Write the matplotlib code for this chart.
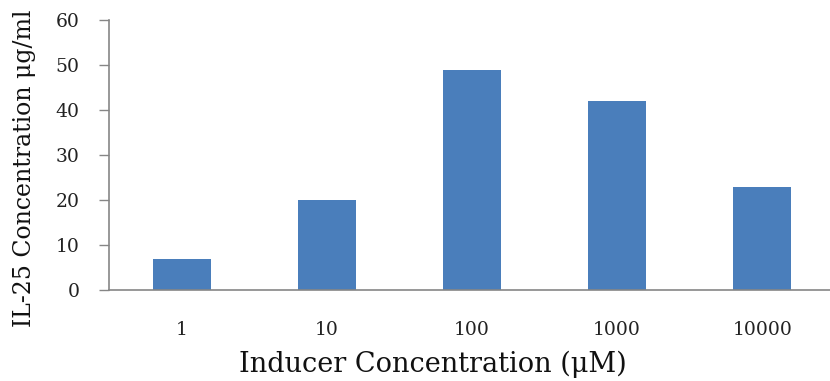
import matplotlib
matplotlib.use("Agg")
import matplotlib.pyplot as plt

# inducer dose vs IL-25 output
inducer_labels = ["1", "10", "100", "1000", "10000"]
il25_conc = [7, 20, 49, 42, 23]

bar_color = "#4a7ebb"
axis_grey = "#868686"

fig = plt.figure(figsize=(8.3, 3.81), dpi=100)
ax = fig.add_axes([0.1313, 0.2388, 0.8747, 0.7087])

x = range(len(inducer_labels))
ax.bar(x, il25_conc, width=0.4, color=bar_color, zorder=2)

ax.set_xlim(-0.5, len(inducer_labels) - 0.5)
ax.set_ylim(0, 60)
ax.set_yticks(range(0, 61, 10))
ax.set_xticks(list(x))
ax.set_xticklabels(inducer_labels)

for side in ["top", "right"]:
    ax.spines[side].set_visible(False)
for side in ["left", "bottom"]:
    ax.spines[side].set_color(axis_grey)
    ax.spines[side].set_linewidth(1.2)

ax.tick_params(axis="y", direction="out", length=7, width=1, color=axis_grey,
               labelsize=13.5, pad=14, labelcolor="#222222")
ax.tick_params(axis="x", length=0, labelsize=13.5, pad=22, labelcolor="#222222")
for lab in ax.get_xticklabels() + ax.get_yticklabels():
    lab.set_family("DejaVu Serif")

fig.text(0.521, 0.024, "Inducer Concentration (\u03bcM)", ha="center", va="baseline",
         family="DejaVu Serif", fontsize=19.5, color="#111111")
fig.text(0.03, 0.559, "IL-25 Concentration \u03bcg/ml", ha="center", va="center",
         rotation=90, family="DejaVu Serif", fontsize=17, color="#111111")

fig.savefig("out.png", dpi=100)
